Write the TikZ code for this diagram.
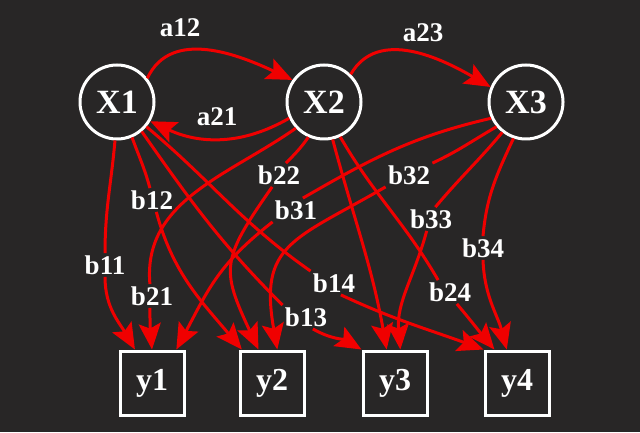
\documentclass[tikz,border=0pt]{standalone}
\usepackage{fontspec}
\setmainfont{Liberation Serif}
\usetikzlibrary{arrows.meta}
\definecolor{bgdark}{RGB}{40,38,38}
\definecolor{edgered}{RGB}{240,0,0}

\begin{document}
\begin{tikzpicture}[x=0.5pt, y=0.5pt,
    latent/.style={circle, draw=white, line width=1.5pt, minimum size=37pt,
        inner sep=0pt, text=white, font=\bfseries\fontsize{17}{17}\selectfont},
    observed/.style={rectangle, draw=white, line width=1.5pt, minimum size=32pt,
        inner sep=0pt, text=white, font=\bfseries\fontsize{16}{16}\selectfont},
    coef/.style={text=white, inner sep=1pt, font=\bfseries\fontsize{13.5}{13.5}\selectfont},
    link/.style={draw=edgered, line width=1.5pt},
    arrowlink/.style={link, -{Stealth[length=13pt, width=11pt, inset=2.5pt]}}]

\fill[bgdark] (0,0) rectangle (640,-432);

\node[latent] (X1) at (117,-102) {X1};
\node[latent] (X2) at (324,-102) {X2};
\node[latent] (X3) at (526,-102) {X3};

\node[observed] (y1) at (152,-383) {y1};
\node[observed] (y2) at (272,-383) {y2};
\node[observed] (y3) at (395,-383) {y3};
\node[observed] (y4) at (517,-383) {y4};

\node[coef] (la12) at (180,-28) {a12};
\node[coef] (la23) at (423,-33) {a23};
\node[coef] (la21) at (217,-117) {a21};
\node[coef] (lb11) at (105,-265) {b11};
\node[coef] (lb12) at (152,-200) {b12};
\node[coef] (lb13) at (306,-317) {b13};
\node[coef] (lb14) at (334,-283) {b14};
\node[coef] (lb21) at (152,-296) {b21};
\node[coef] (lb22) at (279,-175) {b22};
\node[coef] (lb24) at (450,-292) {b24};
\node[coef] (lb31) at (296,-210) {b31};
\node[coef] (lb32) at (409,-175) {b32};
\node[coef] (lb33) at (431,-219) {b33};
\node[coef] (lb34) at (483,-248) {b34};

\draw[arrowlink] (X1.38) to[out=65, in=155] (X2.145);
\draw[arrowlink] (X2.46) to[out=60, in=150] (X3.157);
\draw[arrowlink] (X2.205) to[out=210, in=-25] (X1.-30);

\draw[link] (X1.267) to[out=265, in=90] (lb11.north);
\draw[arrowlink] (lb11.south) to[out=-90, in=120] (y1.117);
\draw[link] (X1.293) to[out=-70, in=105] (lb12.100);
\draw[arrowlink] (lb12.-70) to[out=-75, in=130] (y2.132);
\draw[link] (X1.310) to[out=-55, in=135] (lb13.north west);
\draw[arrowlink] (lb13.-60) to[out=-30, in=150] (y3.north west);
\draw[link] (X1.320) to[out=-40, in=145] (lb14.north west);
\draw[arrowlink] (lb14.-60) to[out=-25, in=160] (y4.north west);

\draw[link] (X2.223) to[out=215, in=95] (lb21.100);
\draw[arrowlink] (lb21.-100) to[out=-90, in=95] (y1.north);
\draw[link] (X2.246) to[out=235, in=45] (lb22.60);
\draw[arrowlink] (lb22.240) to[out=235, in=115, looseness=1.4] (y2.112);
\draw[arrowlink] (X2.283) to[out=-75, in=100] (y3.104);
\draw[link] (X2.295) to[out=-60, in=120] (lb24.135);
\draw[arrowlink] (lb24.-60) to[out=-50, in=130] (y4.124);

\draw[link] (X3.205) to[out=193, in=30] (lb31.60);
\draw[arrowlink] (lb31.south west) to[out=218, in=62, looseness=1.1] (y1.54);
\draw[link] (X3.220) to[out=210, in=25] (lb32.north east);
\draw[arrowlink] (lb32.south west) to[out=210, in=100, looseness=1.4] (y2.81);
\draw[link] (X3.232) to[out=230, in=50] (lb33.70);
\draw[arrowlink] (lb33.250) to[out=255, in=95] (y3.81);
\draw[link] (X3.251) to[out=245, in=85] (lb34.north);
\draw[arrowlink] (lb34.south) to[out=-88, in=105] (y4.107);
\end{tikzpicture}
\end{document}
